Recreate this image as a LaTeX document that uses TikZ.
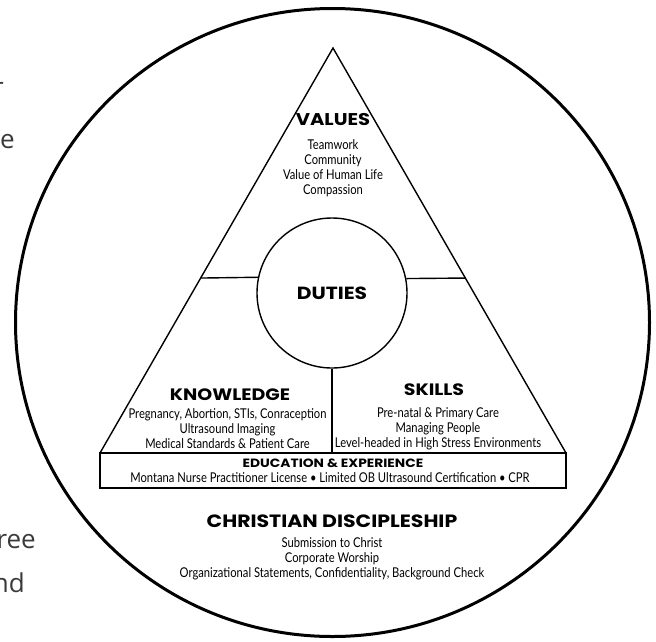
\documentclass[tikz,border=0pt]{standalone}
\usepackage{fontspec}
\usetikzlibrary{positioning,calc}
\newfontfamily\headfont[FakeStretch=1.15]{Poppins}
\newfontfamily\bodyfont[FakeStretch=0.83]{Lato}
\newfontfamily\slidefont{Open Sans}
\definecolor{slidegray}{HTML}{3A3A3A}
\tikzset{%
  heading/.style={
    font=\headfont\bfseries\fontsize{16.5}{18}\selectfont,
    inner sep=0pt
  },
  itemlist/.style={
    font=\bodyfont\fontsize{13.5}{15}\selectfont,
    align=center,
    inner sep=0pt
  },
  thinline/.style={line width=1.4pt},
  fragment/.style={
    font=\slidefont\fontsize{26}{30}\selectfont,
    text=slidegray,
    inner sep=0pt,
    anchor=base east
  },
}

\begin{document}
\begin{tikzpicture}[x=1pt,y=-1pt]
\useasboundingbox (0,0) rectangle (656,641);
% cut-off words of the slide behind
\begin{scope}
  \clip (0,0) rectangle (656,641);
  \node[fragment] (fragr) at (4,96) {r};
  \node[fragment] (frage) at (15,148) {e};
  \node[fragment] (fragree) at (36,548) {ree};
  \node[fragment] (fragnd) at (25,592) {nd};
\end{scope}

% outer ring
\draw[line width=3pt] (332.5,322.5) ellipse [x radius=317pt, y radius=314pt];

% triangle and base box
\node[draw, line width=2pt, outer sep=0pt, inner sep=0pt,
      minimum width=466pt, minimum height=35pt] (edu) at (333,470.5) {};
\coordinate (apex) at (333,48);
\draw[thinline, line join=miter] (edu.north west) -- (apex) -- (edu.north east);

\node[circle, draw, thinline, minimum size=150pt, inner sep=0pt,
      font=\headfont\bfseries\fontsize{17.6}{20}\selectfont] (duties) at (332,293) {DUTIES};
\coordinate (kcut) at ($(apex)!0.568!(edu.north west)$);
\coordinate (scut) at ($(apex)!0.568!(edu.north east)$);
\draw[thinline] (duties.168.5) -- (kcut);
\draw[thinline] (duties.11.5) -- (scut);
\draw[thinline] (duties.south) -- (duties.south |- edu.north);

% values
\node[heading, font=\headfont\bfseries\fontsize{17}{20}\selectfont] (values) at (333,120) {VALUES};
\node[itemlist, below=13pt of values] (valuelist)
  {Teamwork\\Community\\Value of Human Life\\Compassion};

% knowledge
\node[heading] (knowledge) at (230,395) {KNOWLEDGE};
\node[itemlist, below=7.5pt of knowledge, xshift=-2.5pt] (knowlist)
  {Pregnancy, Abortion, STIs, Conraception\\Ultrasound Imaging\\Medical Standards \& Patient Care};

% skills
\node[heading] (skills) at (434,390) {SKILLS};
\node[itemlist, below=11.5pt of skills, xshift=4pt] (skilllist)
  {Pre-natal \& Primary Care\\Managing People\\Level-headed in High Stress Environments};

% education
\node[heading, font=\headfont\bfseries\fontsize{12}{13}\selectfont] (eduhead) at (333,463) {EDUCATION \& EXPERIENCE};
\node[itemlist] (edulist) at (330,478)
  {Montana Nurse Practitioner License • Limited OB Ultrasound Certification • CPR};

% discipleship
\node[heading, font=\headfont\bfseries\fontsize{17.8}{19}\selectfont] (christian) at (332,521) {CHRISTIAN DISCIPLESHIP};
\node[itemlist, below=10pt of christian] (christlist)
  {Submission to Christ\\Corporate Worship\\Organizational Statements, Confidentiality, Background Check};
\end{tikzpicture}
\end{document}
